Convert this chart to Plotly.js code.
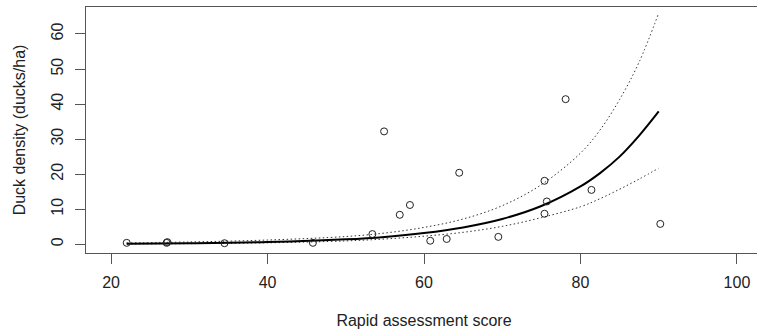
<!DOCTYPE html>
<html>
<head>
<meta charset="utf-8">
<script src="https://cdn.plot.ly/plotly-3.0.1.min.js"></script>
<style>
html, body { margin: 0; padding: 0; background: #fff; overflow: hidden; width: 757px; height: 335px; }
#chart { width: 767px; height: 335px; }
</style>
</head>
<body>
<div id="chart"></div>
<script>
// Observed sites
var scoreX   = [22.0, 27.1, 27.2, 34.5, 45.8, 53.4, 54.9, 56.9, 58.2, 60.8, 62.9, 64.5, 69.5, 75.4, 75.7, 75.4, 78.1, 81.4, 90.2];
var densityY = [0.4, 0.4, 0.6, 0.3, 0.4, 2.9, 32.2, 8.4, 11.2, 1.0, 1.5, 20.4, 2.1, 18.1, 12.2, 8.7, 41.4, 15.5, 5.8];

// Fitted curve and confidence band
var curveX = [22, 30, 40, 50, 55, 60, 65, 70, 75, 80, 82.5, 85, 87.5, 90];
var fitY   = [0.14, 0.27, 0.62, 1.4, 2.1, 3.2, 4.8, 7.2, 10.9, 16.5, 20.3, 25.0, 31.0, 37.9];
var upperY = [0.4, 0.65, 1.2, 2.2, 3.2, 4.8, 7.2, 11.0, 17.0, 26.0, 32.6, 41.3, 52.0, 66.0];
var lowerY = [0.08, 0.17, 0.4, 0.95, 1.5, 2.3, 3.4, 5.1, 7.6, 10.7, 13.0, 15.7, 18.6, 21.7];

var xTicks = [20, 40, 60, 80, 100];
var yTicks = [0, 10, 20, 30, 40, 50, 60];

var FONT = 'Liberation Sans, Arial, sans-serif';

var traces = [
  { x: curveX, y: upperY, type: 'scatter', mode: 'lines',
    line: { color: '#333', width: 1, dash: '1.5px,2.5px', shape: 'spline', smoothing: 1 }, hoverinfo: 'skip' },
  { x: curveX, y: lowerY, type: 'scatter', mode: 'lines',
    line: { color: '#333', width: 1, dash: '1.5px,2.5px', shape: 'spline', smoothing: 1 }, hoverinfo: 'skip' },
  { x: curveX, y: fitY, type: 'scatter', mode: 'lines',
    line: { color: '#000', width: 2, shape: 'spline', smoothing: 1 }, hoverinfo: 'skip' },
  { x: scoreX, y: densityY, type: 'scatter', mode: 'markers',
    marker: { symbol: 'circle-open', size: 7, color: '#222', line: { width: 1, color: '#222' } } }
];

var axisCommon = {
  showgrid: false, zeroline: false,
  showline: true, mirror: true, linecolor: '#555', linewidth: 1,
  ticks: 'outside', ticklen: 10, tickwidth: 1, tickcolor: '#555',
  tickfont: { family: FONT, size: 16, color: '#222' },
  automargin: false
};

var layout = {
  width: 767, height: 335,
  margin: { l: 86, r: 5, t: 7, b: 82 },
  paper_bgcolor: '#fff', plot_bgcolor: '#fff',
  showlegend: false,
  font: { family: FONT, size: 16, color: '#222' },
  xaxis: Object.assign({}, axisCommon, {
    range: [16.8, 103.2],
    tickmode: 'array', tickvals: xTicks, ticktext: xTicks.map(String),
    ticklabelstandoff: 5,
    title: { text: 'Rapid assessment score', font: { family: FONT, size: 16, color: '#222' }, standoff: 24 }
  }),
  yaxis: Object.assign({}, axisCommon, {
    range: [-2.5, 67.7],
    tickmode: 'array', tickvals: yTicks, ticktext: yTicks.map(String),
    tickangle: -90,
    ticklabelstandoff: 6,
    title: { text: 'Duck density (ducks/ha)', font: { family: FONT, size: 16, color: '#222' }, standoff: 18 }
  })
};

Plotly.newPlot('chart', traces, layout, { staticPlot: true, displayModeBar: false });
</script>
</body>
</html>
